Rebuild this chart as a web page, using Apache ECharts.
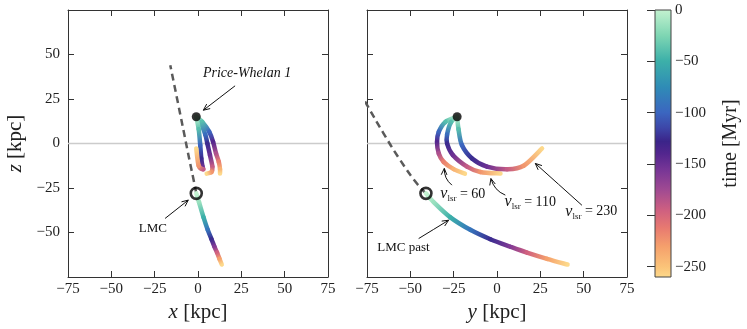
<!DOCTYPE html>
<html>
<head>
<meta charset="utf-8">
<script src="https://cdn.jsdelivr.net/npm/echarts@6/dist/echarts.min.js"></script>
<style>
  html, body { margin: 0; padding: 0; background: #fff; }
  #chart { width: 747px; height: 329px; }
</style>
</head>
<body>
<div id="chart"></div>
<script>
// orbits: time [Myr], galactocentric x, y, z [kpc]
const pw60T = [0, -40, -100, -140, -180, -215, -240, -260];
const pw60X = [-1, 2.5, 6.5, 8.7, 10.4, 12, 12.7, 12.7];
const pw60Y = [-23, -29.8, -33.6, -34.6, -33.6, -30.8, -25, -18.5];
const pw60Z = [15, 12.1, 6.5, 0.9, -5.6, -10.3, -14.4, -16.9];

const pw110T = [0, -40, -95, -125, -150, -190, -225, -260];
const pw110X = [-1, 1.4, 4.2, 5.4, 6.9, 8.3, 7.8, 5];
const pw110Y = [-23, -26.5, -28.8, -28.8, -25.5, -17.3, -9.6, 2];
const pw110Z = [15, 12, 5, 0, -6.5, -13, -16, -16.9];

const pw230T = [0, -40, -100, -125, -150, -190, -225, -260];
const pw230X = [-1, 0.4, 1.3, 1.9, 2.6, 3, 0.4, -1];
const pw230Y = [-23, -22.2, -20.2, -14.4, -5.8, 5.8, 15.4, 26];
const pw230Z = [15, 8, -1, -8.4, -13, -14.5, -12.5, -2.8];

const lmcPastT = [0, -15, -50, -90, -125, -160, -195, -230, -260];
const lmcPastX = [-1, 0.6, 3.2, 5.6, 7.8, 9.5, 11, 12.4, 13.7];
const lmcPastY = [-41, -36.5, -26.9, -15.4, -3.8, 7.7, 17.3, 28.9, 40.7];
const lmcPastZ = [-28, -33, -41.5, -48.5, -53.8, -58, -61.3, -64.8, -68];

// dashed track of the LMC
const lmcFutX = [-1, -2.1, -4.9, -8, -11.2, -16];
const lmcFutY = [-41, -46.2, -55.8, -65.4, -74.6, -88];
const lmcFutZ = [-28, -22.5, -9.4, 5.6, 21, 44];

const pw1Pos = [-1, -23, 15];   // x, y, z
const lmcPos = [-1, -41, -28];

const zTicks = [-50, -25, 0, 25, 50];
const timeTicks = [0, -50, -100, -150, -200, -250];

// annotations: text, text pos, arrow tail, arrow tip, bend
const annXZ = [
  ['{i|Price-Whelan 1}', 28.3, 39.5, 21.4, 32.4, 3.1, 18.7, 0],
  ['{r|LMC}', -26, -47.6, -19, -42.1, -5.6, -31.8, 0]
];
const annYZ = [
  ['{r|LMC past}', -54, -58.5, -45.2, -53.4, -27.9, -43.1, 0],
  ['{v|v}{s|lsr}{n| = 60}', -19.7, -28.5, -26, -23.4, -30.4, -14, -0.25],
  ['{v|v}{s|lsr}{n| = 110}', 19.2, -32.8, 4.8, -29, -3.5, -19.7, -0.25],
  ['{v|v}{s|lsr}{n| = 230}', 54.4, -38.3, 49, -34.7, 22.1, -11.2, 0]
];

const FONT = '"Liberation Serif", "DejaVu Serif", serif';
const INK = '#222';

// colour map for time
const cmapStops = [
  [0, '#c4f2d0'], [-25, '#7fd6b3'], [-50, '#3cb0a9'], [-75, '#2f8cb6'],
  [-100, '#3b66c0'], [-115, '#3d46a8'], [-128, '#3b2489'], [-140, '#53268e'],
  [-155, '#763596'], [-175, '#a04a92'], [-195, '#cf6080'], [-212, '#e87a70'],
  [-230, '#f5a06c'], [-250, '#fbc479'], [-260, '#fdd98b']
];
function hex2rgb(h) {
  return [parseInt(h.slice(1, 3), 16), parseInt(h.slice(3, 5), 16), parseInt(h.slice(5, 7), 16)];
}
function cmap(t) {
  for (let k = 0; k < cmapStops.length - 1; k++) {
    const a = cmapStops[k], b = cmapStops[k + 1];
    if (t <= a[0] && t >= b[0]) {
      const f = (a[0] - t) / (a[0] - b[0]);
      const ca = hex2rgb(a[1]), cb = hex2rgb(b[1]);
      const c = ca.map((v, j) => Math.round(v + (cb[j] - v) * f));
      return 'rgb(' + c.join(',') + ')';
    }
  }
  return t > 0 ? cmapStops[0][1] : cmapStops[cmapStops.length - 1][1];
}

const minus = v => String(v).replace('-', '\u2212');

function axis(extra) {
  return Object.assign({
    type: 'value', min: -75, max: 75, interval: 25,
    axisLine: { show: true, onZero: false, lineStyle: { color: '#333', width: 1 } },
    axisTick: { show: true, inside: true, length: 6, lineStyle: { color: '#333', width: 1 } },
    splitLine: { show: false },
    axisLabel: { show: true, margin: 5, color: INK, fontFamily: FONT, fontSize: 15, formatter: minus }
  }, extra);
}
const noLabel = { show: false };
const zTick = { show: true, inside: true, length: 6, customValues: zTicks, lineStyle: { color: '#333', width: 1 } };

// one coloured orbit, drawn as smooth segments with a gradient each
function orbit(ai, xs, ys, ts) {
  const pts = xs.map((v, i) => [v, ys[i]]);
  return {
    type: 'custom', xAxisIndex: ai, yAxisIndex: ai, silent: true, z: 4,
    data: pts.slice(0, -1).map((p, i) => [p[0], p[1], i]),
    encode: { x: 0, y: 1 },
    renderItem(params, api) {
      const i = params.dataIndex;
      const P = pts.map(p => api.coord(p));
      const a = P[i], b = P[i + 1], pa = P[i - 1] || a, pb = P[i + 2] || b;
      return {
        type: 'bezierCurve',
        shape: {
          x1: a[0], y1: a[1], x2: b[0], y2: b[1],
          cpx1: a[0] + (b[0] - pa[0]) / 6, cpy1: a[1] + (b[1] - pa[1]) / 6,
          cpx2: b[0] - (pb[0] - a[0]) / 6, cpy2: b[1] - (pb[1] - a[1]) / 6
        },
        style: {
          fill: 'none', lineWidth: 4.5, lineCap: 'round',
          stroke: new echarts.graphic.LinearGradient(a[0], a[1], b[0], b[1], [
            { offset: 0, color: cmap(ts[i]) }, { offset: 1, color: cmap(ts[i + 1]) }
          ], true)
        }
      };
    }
  };
}

const RICH = {
  i: { fontStyle: 'italic', fontSize: 14, fontFamily: FONT, fill: '#111' },
  r: { fontSize: 13, fontFamily: FONT, fill: '#111' },
  v: { fontStyle: 'italic', fontSize: 16, fontFamily: FONT, fill: '#111', lineHeight: 18, verticalAlign: 'middle' },
  s: { fontSize: 9, fontFamily: FONT, fill: '#111', lineHeight: 18, verticalAlign: 'bottom' },
  n: { fontSize: 14, fontFamily: FONT, fill: '#111', lineHeight: 18, verticalAlign: 'middle' }
};

function notes(ai, list) {
  return {
    type: 'custom', xAxisIndex: ai, yAxisIndex: ai, silent: true, z: 20,
    data: list.map((a, i) => [a[1], a[2], i]),
    encode: { x: 0, y: 1 },
    renderItem(params, api) {
      const a = list[params.dataIndex];
      const tp = api.coord([a[1], a[2]]);
      const t0 = api.coord([a[3], a[4]]);
      const t1 = api.coord([a[5], a[6]]);
      const dx = t1[0] - t0[0], dy = t1[1] - t0[1];
      const cx = (t0[0] + t1[0]) / 2 - dy * a[7], cy = (t0[1] + t1[1]) / 2 + dx * a[7];
      const ang = Math.atan2(t1[1] - cy, t1[0] - cx);
      const h = 7, w = 0.42;
      const p1 = [t1[0] - h * Math.cos(ang - w), t1[1] - h * Math.sin(ang - w)];
      const p2 = [t1[0] - h * Math.cos(ang + w), t1[1] - h * Math.sin(ang + w)];
      return {
        type: 'group',
        children: [
          { type: 'bezierCurve', shape: { x1: t0[0], y1: t0[1], x2: t1[0], y2: t1[1], cpx1: cx, cpy1: cy },
            style: { fill: 'none', stroke: '#111', lineWidth: 1 } },
          { type: 'polyline', shape: { points: [p1, t1, p2] },
            style: { fill: 'none', stroke: '#111', lineWidth: 1 } },
          { type: 'text', style: { text: a[0], x: tp[0], y: tp[1], align: 'center', verticalAlign: 'middle',
            fontFamily: FONT, fontSize: 13, fill: '#111', rich: RICH } }
        ]
      };
    }
  };
}

function zeroLine(ai) {
  return {
    type: 'line', xAxisIndex: ai, yAxisIndex: ai, silent: true, z: 1,
    data: [[-75, 0], [75, 0]], symbol: 'none',
    lineStyle: { color: '#cccccc', width: 1.5 }
  };
}
function dashed(ai, xs, zs) {
  return {
    type: 'line', xAxisIndex: ai, yAxisIndex: ai, silent: true, z: 2, smooth: true,
    data: xs.map((v, i) => [v, zs[i]]), symbol: 'none', clip: true,
    lineStyle: { color: '#5a5a5a', width: 2.5, type: [7, 4.5] }
  };
}
function markers(ai, h) {
  return [
    { type: 'scatter', xAxisIndex: ai, yAxisIndex: ai, silent: true, z: 10,
      data: [[pw1Pos[h], pw1Pos[2]]], symbolSize: 9, itemStyle: { color: '#000' } },
    { type: 'scatter', xAxisIndex: ai, yAxisIndex: ai, silent: true, z: 10,
      data: [[lmcPos[h], lmcPos[2]]], symbolSize: 11,
      itemStyle: { color: 'rgba(0,0,0,0)', borderColor: '#000', borderWidth: 2.6 } }
  ];
}

const nameStyle = () => ({
  fontFamily: FONT, fontSize: 21, color: INK,
  rich: { i: { fontStyle: 'italic', fontFamily: FONT, fontSize: 21, color: INK } }
});

const chart = echarts.init(document.getElementById('chart'), null, { renderer: 'canvas' });
chart.setOption({
  animation: false,
  backgroundColor: '#fff',
  grid: [
    { left: 68, top: 10, width: 260, height: 267 },
    { left: 367, top: 10, width: 260, height: 267 },
    { left: 655, top: 10, width: 16, height: 267 }
  ],
  xAxis: [
    axis({ gridIndex: 0, position: 'bottom', name: '{i|x} [kpc]', nameLocation: 'middle', nameGap: 24, nameTextStyle: nameStyle() }),
    axis({ gridIndex: 0, position: 'top', axisLabel: noLabel }),
    axis({ gridIndex: 1, position: 'bottom', name: '{i|y} [kpc]', nameLocation: 'middle', nameGap: 24, nameTextStyle: nameStyle() }),
    axis({ gridIndex: 1, position: 'top', axisLabel: noLabel }),
    { gridIndex: 2, type: 'value', min: 0, max: 1, show: false }
  ],
  yAxis: [
    axis({ gridIndex: 0, position: 'left', name: '{i|z} [kpc]', nameLocation: 'middle', nameGap: 42, nameTextStyle: nameStyle(),
      axisTick: zTick,
      axisLabel: { show: true, margin: 8, customValues: zTicks, color: INK, fontFamily: FONT, fontSize: 15, formatter: minus } }),
    axis({ gridIndex: 0, position: 'right', axisTick: zTick, axisLabel: noLabel }),
    axis({ gridIndex: 1, position: 'left', axisTick: zTick, axisLabel: noLabel }),
    axis({ gridIndex: 1, position: 'right', axisTick: zTick, axisLabel: noLabel }),
    {
      gridIndex: 2, type: 'value', position: 'right', min: -260, max: 0,
      name: 'time [Myr]', nameLocation: 'middle', nameGap: 50, nameRotate: 90,
      nameTextStyle: { fontFamily: FONT, fontSize: 20, color: INK },
      axisLine: { show: false },
      axisTick: { show: true, inside: true, length: 8, customValues: timeTicks, lineStyle: { color: '#333' } },
      axisLabel: { show: true, margin: 4, customValues: timeTicks, color: INK, fontFamily: FONT, fontSize: 15, formatter: minus },
      splitLine: { show: false }
    }
  ],
  series: [
    zeroLine(0), zeroLine(2),
    dashed(0, lmcFutX, lmcFutZ), dashed(2, lmcFutY, lmcFutZ),
    orbit(0, lmcPastX, lmcPastZ, lmcPastT), orbit(2, lmcPastY, lmcPastZ, lmcPastT),
    orbit(0, pw60X, pw60Z, pw60T), orbit(0, pw110X, pw110Z, pw110T), orbit(0, pw230X, pw230Z, pw230T),
    orbit(2, pw60Y, pw60Z, pw60T), orbit(2, pw110Y, pw110Z, pw110T), orbit(2, pw230Y, pw230Z, pw230T),
    ...markers(0, 0), ...markers(2, 1),
    notes(0, annXZ), notes(2, annYZ),
    {
      // colour bar
      type: 'custom', xAxisIndex: 4, yAxisIndex: 4, silent: true, z: 1,
      data: [[0, 0]],
      renderItem(params) {
        const cs = params.coordSys;
        return {
          type: 'rect',
          shape: { x: cs.x, y: cs.y, width: cs.width, height: cs.height },
          style: {
            stroke: '#444', lineWidth: 1,
            fill: new echarts.graphic.LinearGradient(0, 0, 0, 1,
              cmapStops.map(s => ({ offset: -s[0] / 260, color: s[1] })))
          }
        };
      }
    }
  ]
});
</script>
</body>
</html>
